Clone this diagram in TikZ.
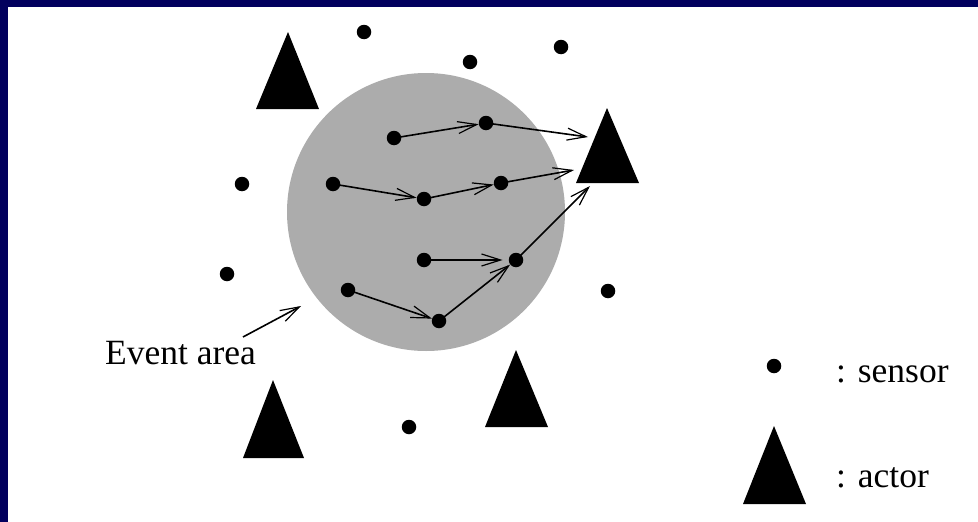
\documentclass[tikz,border=0pt]{standalone}
\usepackage{fontspec}
\setmainfont{Liberation Serif}
\usetikzlibrary{arrows.meta}
\definecolor{navy}{HTML}{02005E}
\definecolor{areagray}{HTML}{ACACAC}
\tikzset{
  sensor/.style={circle,fill=black,inner sep=0pt,minimum size=14.5pt},
  actor/.style={fill=black},
  flow/.style={line width=1.6pt,-{Straight Barb[length=19pt,width=12pt,line width=1.2pt]}},
  lbl/.style={font=\fontsize{35.5}{40}\selectfont,inner sep=0pt,anchor=base west}
}
\begin{document}
\begin{tikzpicture}[x=1pt,y=-1pt]
\useasboundingbox (0,0) rectangle (978,522);
\fill[white] (0,0) rectangle (978,522);
\fill[navy] (0,0) rectangle (978,7);
\fill[navy] (0,0) rectangle (8,522);
% event area
\fill[areagray] (426,212) circle[radius=139];
% actors
\fill[actor] (256,109) -- (319,109) -- (288,32) -- cycle;
\fill[actor] (576,183) -- (639,183) -- (607,108) -- cycle;
\fill[actor] (243,458) -- (304,458) -- (273,380) -- cycle;
\fill[actor] (485,427) -- (548,427) -- (516,350) -- cycle;
\fill[actor] (743,504) -- (806,504) -- (774,426) -- cycle;
\coordinate (t1) at (588,137);
\coordinate (t2) at (574,170);
\coordinate (t3) at (590,186);
% sensors outside
\node[sensor] (o1) at (364,32) {};
\node[sensor] (o2) at (470,62) {};
\node[sensor] (o3) at (561,47) {};
\node[sensor] (o4) at (242,184) {};
\node[sensor] (o5) at (227,274) {};
\node[sensor] (o6) at (608,291) {};
\node[sensor] (o7) at (409,427) {};
\node[sensor] (leg) at (774,366) {};
% sensors inside
\node[sensor] (a) at (394,138) {};
\node[sensor] (b) at (486,123) {};
\node[sensor] (c) at (333,184) {};
\node[sensor] (d) at (424,199) {};
\node[sensor] (e) at (501,183) {};
\node[sensor] (f) at (424,260) {};
\node[sensor] (g) at (516,260) {};
\node[sensor] (h) at (348,290) {};
\node[sensor] (i) at (439,321) {};
% flows
\draw[flow] (a.center) -- (b);
\draw[flow] (b.center) -- (t1);
\draw[flow] (c.center) -- (d);
\draw[flow] (d.center) -- (e);
\draw[flow] (e.center) -- (t2);
\draw[flow,shorten >=6pt] (f.center) -- (g);
\draw[flow] (h.center) -- (i);
\draw[flow] (i.center) -- (g);
\draw[flow] (g.center) -- (t3);
% labels
\node[lbl] (ev) at (105,364) {Event area};
\coordinate (evtip) at (301,306);
\coordinate (evtail) at (243,337);
\draw[flow] (evtail) -- (evtip);
\node[lbl] (ls) at (836,382) {: sensor};
\node[lbl] (la) at (836,487) {: actor};
\end{tikzpicture}
\end{document}
